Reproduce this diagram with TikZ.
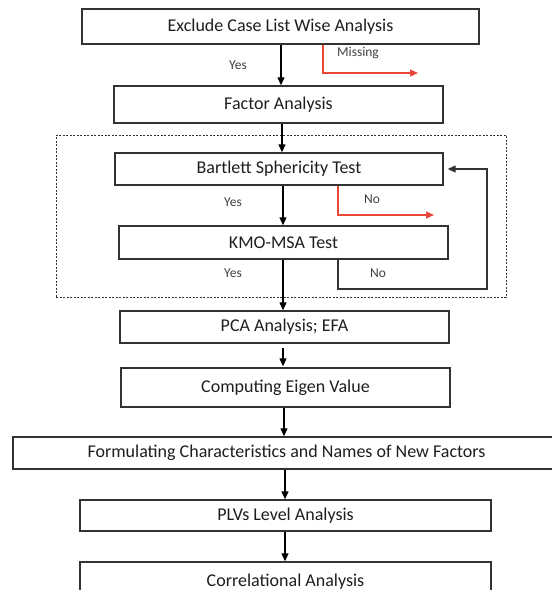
\documentclass[tikz,border=0pt]{standalone}
\usepackage{fontspec}
\setmainfont{Carlito}
\usetikzlibrary{arrows.meta}
\definecolor{boxline}{HTML}{333333}
\definecolor{redline}{HTML}{E8473A}
\definecolor{txt}{HTML}{1E1E1E}
\tikzset{
  box/.style={draw=boxline, line width=1.4pt, inner sep=0pt, text=txt,
    font=\fontsize{18}{20}\selectfont},
  lbl/.style={text=txt!85, inner sep=0pt, font=\fontsize{13.5}{15}\selectfont},
  arr/.style={draw=black, line width=1.2pt, -{Triangle[length=8pt,width=7pt]}},
  redarr/.style={draw=redline, line width=1.2pt, -{Triangle[length=8pt,width=7pt]}},
  loopline/.style={draw=boxline, line width=1.3pt},
  grp/.style={draw=boxline, line width=1pt, dash pattern=on 2pt off 1.5pt}
}
\begin{document}
\begin{tikzpicture}[x=1pt,y=-1pt]
\useasboundingbox (0,0) rectangle (552,590);
\clip (0,0) rectangle (552,590);
% dashed group
\node[grp, minimum width=450pt, minimum height=162pt, inner sep=0pt] (group) at (281,216) {};
% boxes
\node[box, minimum width=397pt, minimum height=35pt] (exclude) at (280.5,26.5) {Exclude Case List Wise Analysis};
\node[box, minimum width=329pt, minimum height=37pt] (factor) at (278.5,104.5) {Factor Analysis};
\node[box, minimum width=328pt, minimum height=32pt] (bartlett) at (279,169) {Bartlett Sphericity Test};
\node[box, minimum width=329pt, minimum height=33pt] (kmo) at (283.5,242.5) {KMO-MSA Test};
\node[box, minimum width=329pt, minimum height=32pt] (pca) at (284.5,327) {PCA Analysis; EFA};
\node[box, minimum width=329pt, minimum height=39pt] (eigen) at (285.5,387.5) {Computing Eigen Value};
\node[box, minimum width=547pt, minimum height=32pt] (formul) at (286.5,453) {Formulating Characteristics and Names of New Factors};
\node[box, minimum width=411pt, minimum height=31pt] (plvs) at (285.5,515.5) {PLVs Level Analysis};
\node[box, minimum width=411pt, minimum height=40pt] (corr) at (285.5,582) {Correlational Analysis};
% x positions of arrows
\coordinate (xa) at (281,0);
\coordinate (xb) at (282,0);
\coordinate (xc) at (283,0);
\coordinate (xd) at (284,0);
\coordinate (xe) at (285,0);
\coordinate (xr1) at (323,0);
\coordinate (xr2) at (338,0);
\coordinate (m1) at (418,73);
\coordinate (m2) at (434,215);
\coordinate (lp) at (487,289);
\coordinate (pcagap) at (283,348);
% main arrows
\draw[arr] (exclude.south -| xa) -- (factor.north -| xa);
\draw[arr] (factor.south -| xb) -- (bartlett.north -| xb);
\draw[arr] (bartlett.south -| xc) -- (kmo.north -| xc);
\draw[arr] (kmo.south -| xc) -- (pca.north -| xc);
\draw[arr] (pcagap) -- ([yshift=1pt]eigen.north -| pcagap);
\draw[arr] (eigen.south -| xd) -- (formul.north -| xd);
\draw[arr] (formul.south -| xe) -- (plvs.north -| xe);
\draw[arr] (plvs.south -| xe) -- (corr.north -| xe);
% red branches
\draw[redarr] (exclude.south -| xr1) |- (m1);
\draw[redarr] (bartlett.south -| xr2) |- (m2);
% loop back
\draw[loopline, -{Triangle[length=8pt,width=7pt]}] (kmo.south -| xr2) |- (lp) |- ([xshift=4pt]bartlett.east);
% labels
\node[lbl] (yes1) at (238,65) {Yes};
\node[lbl] (miss) at (358,53) {Missing};
\node[lbl] (yes2) at (233,202) {Yes};
\node[lbl] (no1) at (372,199) {No};
\node[lbl] (yes3) at (233,273) {Yes};
\node[lbl] (no2) at (378,273) {No};
\end{tikzpicture}
\end{document}
